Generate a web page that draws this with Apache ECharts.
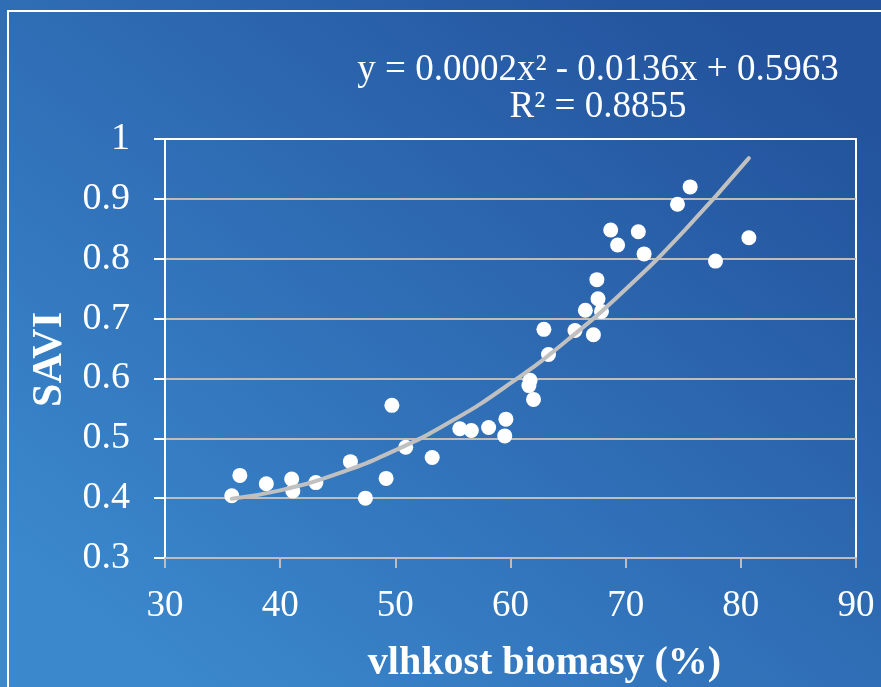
<!DOCTYPE html>
<html>
<head>
<meta charset="utf-8">
<script src="https://cdn.jsdelivr.net/npm/echarts@6/dist/echarts.min.js"></script>
<style>
html,body{margin:0;padding:0;width:881px;height:687px;overflow:hidden;}
#c{width:881px;height:687px;}
</style>
</head>
<body>
<div id="c"></div>
<script>
// Measured points: moisture of biomass (%) vs SAVI
var moisture = [35.8, 36.5, 38.8, 41.0, 41.1, 43.1, 46.1, 47.4, 49.2, 49.7, 50.9, 53.2, 55.6, 56.6, 58.1, 59.6, 59.5, 61.7, 61.6, 62.0, 62.9, 63.3, 65.6, 66.5, 67.2, 67.5, 67.6, 67.9, 68.7, 69.3, 71.1, 71.6, 74.5, 75.6, 77.8, 80.7];
var savi = [0.404, 0.438, 0.424, 0.432, 0.412, 0.426, 0.461, 0.400, 0.433, 0.555, 0.485, 0.468, 0.516, 0.513, 0.518, 0.532, 0.504, 0.597, 0.588, 0.565, 0.682, 0.640, 0.680, 0.714, 0.673, 0.765, 0.733, 0.712, 0.848, 0.823, 0.845, 0.808, 0.891, 0.920, 0.796, 0.835];
// Trend curve
var trendX = [35.8, 40, 45, 50, 55, 60, 65, 70, 75, 80.7];
var trendY = [0.399, 0.413, 0.441, 0.480, 0.530, 0.592, 0.665, 0.749, 0.845, 0.968];
var equationText = 'y = 0.0002x² - 0.0136x + 0.5963';
var r2Text = 'R² = 0.8855';
var xTitle = 'vlhkost biomasy (%)';
var yTitle = 'SAVI';

var pts = moisture.map(function(x, i){ return [x, savi[i]]; });
var trend = trendX.map(function(x, i){ return [x, trendY[i]]; });

var serif = '"Liberation Serif", "DejaVu Serif", serif';
var chart = echarts.init(document.getElementById('c'));
var grayLine = '#bdbdbd';
chart.setOption({
  animation: false,
  backgroundColor: {
    type: 'linear', x: 0.2, y: 1, x2: 0.8, y2: 0,
    colorStops: [{offset: 0, color: '#3b88cd'}, {offset: 1, color: '#23539d'}]
  },
  graphic: [
    {type: 'rect', shape: {x: 8, y: 11, width: 900, height: 720}, style: {fill: 'none', stroke: '#ffffff', lineWidth: 2}, z: 0},
    {type: 'text', x: 598, y: 70, style: {text: equationText, fill: '#ffffff', font: '37px ' + serif, textAlign: 'center', textVerticalAlign: 'middle'}},
    {type: 'text', x: 598, y: 107, style: {text: r2Text, fill: '#ffffff', font: '37px ' + serif, textAlign: 'center', textVerticalAlign: 'middle'}}
  ],
  grid: {left: 165, top: 139, width: 691, height: 419, outerBoundsMode: 'none', containLabel: false, show: true, borderColor: '#ffffff', borderWidth: 2, backgroundColor: 'transparent'},
  xAxis: {
    type: 'value', min: 30, max: 90, interval: 10,
    name: xTitle, nameLocation: 'middle', nameGap: 86,
    nameTextStyle: {color: '#ffffff', fontFamily: serif, fontWeight: 'bold', fontSize: 40, padding: [0, 0, 0, 68]},
    axisLine: {lineStyle: {color: grayLine, width: 2}},
    axisTick: {show: true, length: 10, lineStyle: {color: grayLine, width: 2}},
    axisLabel: {color: '#ffffff', fontFamily: serif, fontSize: 37, margin: 30},
    splitLine: {show: false}
  },
  yAxis: {
    type: 'value', min: 0.3, max: 1, interval: 0.1,
    name: yTitle, nameLocation: 'middle', nameGap: 81, nameRotate: 90,
    nameTextStyle: {color: '#ffffff', fontFamily: serif, fontWeight: 'bold', fontSize: 42, padding: [0, 22, 0, 0]},
    axisLine: {show: true, lineStyle: {color: '#ffffff', width: 2}},
    axisTick: {show: true, length: 11, lineStyle: {color: '#ffffff', width: 2}},
    axisLabel: {color: '#ffffff', fontFamily: serif, fontSize: 38, margin: 35,
      formatter: function(v){ return Math.abs(v - 1) < 1e-9 ? '1' : v.toFixed(1); }},
    splitLine: {show: true, lineStyle: {color: [grayLine, grayLine, grayLine, grayLine, grayLine, grayLine, grayLine, '#ffffff'], width: 2}}
  },
  series: [
    {type: 'scatter', data: pts, symbol: 'circle', symbolSize: 15, itemStyle: {color: '#ffffff', opacity: 1}, z: 2},
    {type: 'line', data: trend, smooth: true, showSymbol: false, symbol: 'none', lineStyle: {color: '#c0c0c0', width: 4, cap: 'round'}, z: 3}
  ]
});
</script>
</body>
</html>
